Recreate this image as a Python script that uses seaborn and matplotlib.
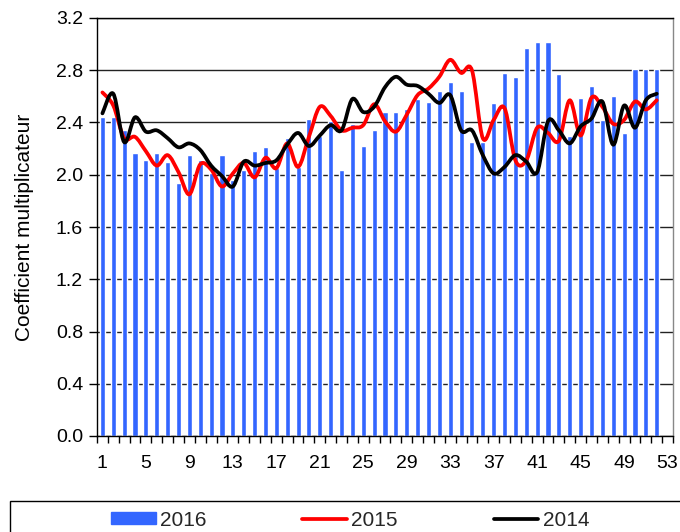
import numpy as np
import pandas as pd
import matplotlib
matplotlib.use("Agg")
import matplotlib.pyplot as plt
import matplotlib.patches as mpatches
from matplotlib.lines import Line2D
from matplotlib.path import Path
import seaborn as sns

# Weekly multiplier coefficients
weeks = [str(w) for w in range(1, 54)]
tick_labels = [str(w) for w in range(1, 54, 4)]

values_2016 = [2.44, 2.44, 2.34, 2.17, 2.11, 2.17, 2.10, 1.94, 2.15, 2.11,
               2.01, 2.15, 1.96, 2.04, 2.18, 2.21, 2.05, 2.28, 2.06, 2.43,
               2.30, 2.41, 2.04, 2.39, 2.22, 2.34, 2.48, 2.48, 2.50, 2.58,
               2.56, 2.64, 2.71, 2.64, 2.25, 2.25, 2.55, 2.78, 2.75, 2.97,
               3.02, 3.02, 2.77, 2.30, 2.59, 2.68, 2.42, 2.60, 2.32, 2.81,
               2.81, 2.81]

values_2015 = [2.63, 2.53, 2.28, 2.29, 2.18, 2.07, 2.15, 2.02, 1.85, 2.08,
               2.04, 1.91, 2.01, 2.09, 1.98, 2.13, 2.05, 2.24, 2.06, 2.29,
               2.52, 2.45, 2.34, 2.36, 2.38, 2.54, 2.41, 2.33, 2.46, 2.61,
               2.66, 2.75, 2.88, 2.78, 2.80, 2.28, 2.42, 2.51, 2.11, 2.11,
               2.36, 2.32, 2.26, 2.57, 2.30, 2.59, 2.52, 2.39, 2.42, 2.56,
               2.50, 2.57]

values_2014 = [2.47, 2.62, 2.25, 2.44, 2.33, 2.34, 2.28, 2.21, 2.24, 2.19,
               2.07, 1.99, 1.91, 2.10, 2.07, 2.09, 2.11, 2.23, 2.32, 2.22,
               2.30, 2.38, 2.34, 2.58, 2.48, 2.52, 2.67, 2.75, 2.69, 2.68,
               2.62, 2.55, 2.61, 2.34, 2.34, 2.15, 2.01, 2.06, 2.15, 2.10,
               2.02, 2.41, 2.34, 2.24, 2.37, 2.43, 2.56, 2.23, 2.53, 2.36,
               2.57, 2.62]

BLUE = "#3366ff"
RED = "#ff0000"
BLACK = "#000000"

sns.set_theme(style="white")
plt.rcParams["font.family"] = ["Liberation Sans", "DejaVu Sans"]

fig = plt.figure(figsize=(6.8, 5.32), dpi=100)
ax = fig.add_axes([97 / 680, 1 - 436 / 532, (673 - 97) / 680, (436 - 18) / 532])

df = pd.DataFrame({"week": weeks[:len(values_2016)], "coef": values_2016})
sns.barplot(data=df, x="week", y="coef", order=weeks, color=BLUE,
            saturation=1, width=0.47, ax=ax, errorbar=None)


def smooth_path(ys):
    """Cubic Bezier path through the points (Catmull-Rom style, tension 1/6)."""
    pts = np.column_stack([np.arange(len(ys), dtype=float), np.asarray(ys, float)])
    n = len(pts)
    verts = [pts[0]]
    codes = [Path.MOVETO]
    for i in range(n - 1):
        p0 = pts[max(i - 1, 0)]
        p1 = pts[i]
        p2 = pts[i + 1]
        p3 = pts[min(i + 2, n - 1)]
        c1 = p1 + (p2 - p0) / 6.0
        c2 = p2 - (p3 - p1) / 6.0
        verts += [c1, c2, p2]
        codes += [Path.CURVE4] * 3
    return Path(verts, codes)


for ys, col in [(values_2015, RED), (values_2014, BLACK)]:
    patch = mpatches.PathPatch(smooth_path(ys), facecolor="none", edgecolor=col,
                               lw=2.7, capstyle="round", joinstyle="round",
                               zorder=4)
    ax.add_patch(patch)

ax.set_xlim(-0.5, 52.5)
ax.set_ylim(0, 3.2)
yt = np.arange(0, 3.21, 0.4)
ax.set_yticks(yt)
ax.set_yticklabels([f"{v:.1f}" for v in yt])
ax.yaxis.grid(True, color="#222222", lw=1.0)
ax.set_axisbelow(True)

ax.set_xticks(range(0, 53, 4))
ax.set_xticklabels(tick_labels)
ax.set_xticks(np.arange(-0.5, 53, 1.0), minor=True)
ax.tick_params(axis="x", which="major", length=0, pad=14, labelsize=14,
               colors="black")
ax.tick_params(axis="x", which="minor", length=5, width=1, color="black",
               direction="out", bottom=True)
ax.tick_params(axis="y", which="major", length=6, width=1, color="black",
               direction="out", left=True, pad=4, labelsize=14,
               labelcolor="black")

ax.set_xlabel("")
ax.set_ylabel("Coefficient multiplicateur", fontsize=15, color="black",
              labelpad=16)

for side in ["left", "bottom", "top"]:
    ax.spines[side].set_visible(True)
    ax.spines[side].set_color("black")
    ax.spines[side].set_linewidth(1.0)
ax.spines["right"].set_visible(True)
ax.spines["right"].set_color("#888888")
ax.spines["right"].set_linewidth(1.0)

# Legend box along the bottom edge
fig.patches.append(mpatches.Rectangle((10 / 680, -0.05), 0.99, (532 - 501) / 532 + 0.05,
                                      transform=fig.transFigure, fill=False,
                                      edgecolor="black", lw=1.0))
handles = [mpatches.Patch(color=BLUE),
           Line2D([], [], color=RED, lw=2.7),
           Line2D([], [], color=BLACK, lw=2.7)]
fig.legend(handles, ["2016", "2015", "2014"], loc="center left",
           bbox_to_anchor=(111 / 680, 1 - 520 / 532), ncol=3, frameon=False,
           fontsize=15, handlelength=2.15, handletextpad=0.2,
           columnspacing=4.6, borderpad=0, borderaxespad=0,
           handleheight=0.5)

fig.savefig("out.png", dpi=100)
